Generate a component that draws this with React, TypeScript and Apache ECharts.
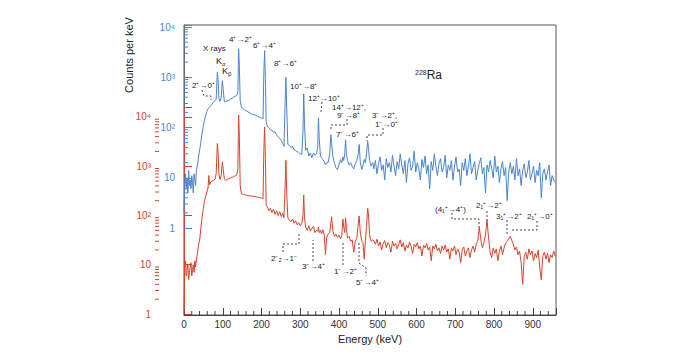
import React, { useEffect, useRef } from "react";
import * as echarts from "echarts";

// Energy channels (keV) shared by both spectra
const energies = [
  0, 2, 4, 6, 8, 10, 12, 14, 16, 18, 20, 22, 24, 26, 28, 30, 32, 35, 38, 41,
  44, 47, 50, 53, 56, 59, 62, 64, 66, 69, 72, 76, 80, 83, 86, 88, 90, 93, 96, 99,
  101, 104, 108, 112, 116, 120, 124, 128, 132, 136, 139, 141, 143, 145, 148, 152, 156, 160, 165, 170,
  175, 180, 185, 190, 195, 200, 204, 206, 208, 210, 212, 215, 219, 223, 227, 231, 235, 239, 243, 247,
  251, 255, 258, 261, 263, 265, 268, 272, 276, 280, 284, 288, 292, 296, 300, 304, 307, 309, 311, 314,
  318, 322, 326, 330, 334, 338, 342, 345, 347, 349, 352, 355, 358, 362, 365, 368, 372, 376, 379, 381,
  384, 388, 392, 396, 400, 404, 407, 410, 412, 415, 417, 419, 422, 426, 430, 434, 438, 442, 446, 449,
  452, 455, 459, 462, 465, 468, 471, 474, 476, 479, 483, 487,
  490, 494, 498, 502, 506, 510, 514, 518, 522, 526,
  530, 534, 538, 542, 546, 550, 554, 558, 562, 566,
  570, 574, 578, 582, 586, 590, 594, 598, 602, 606,
  610, 614, 618, 622, 626, 630, 634, 638, 642, 646,
  650, 654, 658, 662, 666, 670, 674, 678, 682, 686,
  690, 694, 698, 702, 706, 710, 714, 718, 722, 726,
  730, 734, 738, 742, 746, 750, 754, 758, 762, 766,
  770, 774, 778, 782, 786, 790, 794, 798, 802, 806,
  810, 814, 818, 822, 826, 830, 834, 838, 842, 846,
  850, 854, 858, 862, 866, 870, 874, 878, 882, 886,
  890, 894, 898, 902, 906, 910, 914, 918, 922, 926,
  930, 934, 938, 942, 946, 950, 954, 958,
];

// Upper (blue) spectrum, counts per keV
const blueCounts = [
  2, 8, 12, 6, 10, 5, 14, 7, 9, 6, 11, 8, 5, 12, 9, 7, 14, 18, 28, 38,
  55, 80, 110, 140, 175, 210, 235, 245, 255, 270, 290, 320, 340, 360, 1250, 900, 380, 330, 400, 850,
  600, 330, 320, 350, 340, 370, 380, 400, 420, 430, 500, 3700, 1500, 350, 250, 240, 225, 215, 205, 195,
  185, 180, 175, 165, 160, 155, 150, 1200, 3400, 1000, 130, 105, 100, 90, 88, 80, 82, 70, 66, 60,
  55, 48, 42, 300, 1000, 250, 46, 44, 40, 42, 36, 35, 33, 32, 30, 29, 80, 470, 120, 35,
  39, 27, 31, 25, 31, 28, 30, 40, 156, 60, 27, 25, 23, 21, 18, 20, 20, 30, 72, 50,
  27, 20, 16, 14.5, 18, 23, 20, 26, 22, 30, 57, 30, 22, 18, 20, 17, 15, 19, 22, 28,
  46, 20, 14.5, 18, 23, 20, 30, 53, 40, 22, 17, 20,
  15, 22, 12, 19, 26, 14, 18, 9, 24, 16,
  20, 13, 28, 17, 11, 21, 15, 30, 18, 12,
  22, 8, 19, 25, 14, 17, 34, 13, 20, 15,
  9, 23, 16, 27, 12, 18, 6, 21, 14, 30,
  17, 11, 19, 24, 13, 16, 28, 10, 18, 14,
  22, 9, 17, 26, 13, 15, 7, 20, 14, 24,
  11, 17, 30, 12, 16, 21, 9, 14, 19, 25,
  12, 16, 5, 18, 13, 22, 15, 10, 27, 13,
  17, 8, 15, 21, 11, 16, 3.5, 13, 20, 12,
  17, 9, 24, 11, 15, 7, 14, 19, 10, 13,
  22, 9, 12, 17, 8, 14, 11, 20, 4, 12,
  15, 9, 13, 18, 7, 11, 9, 8,
];

// Lower (red) spectrum, counts per keV
const redCounts = [
  1, 9, 12, 6, 8, 10, 5, 7, 9, 11, 6, 8, 10, 7, 12, 9, 13, 18, 26, 35,
  60, 95, 140, 200, 250, 300, 360, 650, 420, 480, 500, 520, 540, 700, 2900, 2000, 700, 540, 650, 1230,
  900, 550, 520, 540, 560, 580, 600, 610, 640, 660, 900, 11000, 3500, 400, 280, 270, 265, 260, 255, 250,
  248, 245, 240, 235, 232, 225, 220, 2000, 6300, 1500, 160, 150, 125, 140, 115, 135, 105, 125, 100, 120,
  95, 110, 90, 400, 1320, 300, 90, 80, 75, 85, 70, 78, 65, 72, 62, 70, 100, 260, 90, 58,
  50, 62, 48, 55, 60, 45, 50, 48, 58, 45, 50, 42, 52, 40, 16, 35, 42, 45, 70, 94,
  50, 38, 42, 36, 40, 34, 38, 85, 60, 45, 90, 55, 35, 38, 30, 32, 18, 30, 34, 60,
  98, 45, 30, 28, 13, 30, 60, 139, 110, 40, 30, 32,
  30, 26, 33, 24, 29, 20, 27, 31, 22, 28,
  25, 18, 30, 24, 27, 21, 26, 32, 23, 28,
  19, 25, 22, 29, 24, 17, 26, 23, 28, 21,
  24, 15, 25, 22, 27, 20, 23, 12, 24, 21,
  26, 19, 22, 17, 24, 20, 25, 18, 21, 13,
  22, 19, 24, 16, 21, 18, 11, 20, 23, 15,
  19, 22, 14, 20, 24, 18, 26, 30, 59, 32,
  22, 28, 40, 81, 35, 18, 14, 22, 17, 21,
  12, 19, 24, 16, 22, 28, 30, 34, 38, 31,
  26, 20, 23, 16, 19, 11, 4, 15, 18, 13,
  21, 16, 19, 12, 17, 14, 20, 9, 5, 15,
  18, 13, 17, 11, 16, 14, 19, 15,
];

const logLabels: Record<number, string> = { 1: "1", 10: "10", 100: "10²", 1000: "10³", 10000: "10⁴" };
const minorFactors = [2, 3, 4, 5, 6, 7, 8, 9];
const decades = [1, 10, 100, 1000];
const xMinorTicks = [
  20, 40, 60, 80, 120, 140, 160, 180, 220, 240, 260, 280, 320, 340, 360, 380,
  420, 440, 460, 480, 520, 540, 560, 580, 620, 640, 660, 680, 720, 740, 760, 780,
  820, 840, 860, 880, 920, 940,
];

const BLUE = "#4a84cc";
const RED = "#d9432b";
const FONT = "'Liberation Sans', Arial, Helvetica, sans-serif";

// Peak annotations (text, left x, centre y)
const annotations: [string, number, number][] = [
  ["X rays", 203, 48],
  ["2⁺→0⁺", 192, 85],
  ["4⁺→2⁺", 229, 39],
  ["6⁺→4⁺", 253, 45],
  ["8⁺→6⁺", 274, 63],
  ["10⁺→8⁺", 290, 86],
  ["12⁺→10⁺", 308, 98],
  ["14⁺→12⁺,", 332, 107],
  ["9⁻→8⁺", 337, 115],
  ["7⁻→6⁺", 336, 134],
  ["3⁻→2⁺,", 372, 115],
  ["1⁻→0⁺", 375, 124],
  ["2⁻₂→1⁻", 271, 258],
  ["3⁻→4⁺", 302, 266],
  ["1⁻→2⁺", 334, 271],
  ["5⁻→4⁺", 356, 282],
  ["(4₁⁺→4⁺)", 435, 209],
  ["2₁⁺→2⁺", 476, 205],
  ["3₁⁺→2⁺", 496, 216],
  ["2₁⁺→0⁺", 527, 216],
];

const leaders: number[][][] = [
  [[202, 90], [204, 96], [211, 96], [211, 100]],
  [[322, 102], [321, 112]],
  [[347, 119], [347, 125], [331, 125], [331, 131]],
  [[383, 128], [383, 135], [367, 135], [367, 141]],
  [[283, 252], [283, 244], [299, 244], [299, 234]],
  [[313, 261], [313, 240]],
  [[343, 265], [343, 243]],
  [[359, 243], [359, 263], [366, 268], [366, 276]],
  [[452, 213], [452, 219], [479, 219], [479, 227]],
  [[487, 211], [487, 227]],
  [[507, 220], [507, 235]],
  [[537, 221], [537, 230], [512, 230]],
];

export default function App() {
  const ref = useRef<HTMLDivElement>(null);
  useEffect(() => {
    document.body.style.margin = "0";
    const chart = echarts.init(ref.current!, null, { renderer: "svg" });
    const blueData = energies.map((e, i) => [e, blueCounts[i]]);
    const redData = energies.map((e, i) => [e, redCounts[i]]);
    const minorData = decades.flatMap((d) => minorFactors.map((f) => [0, f * d]));
    const tickRenderer = (color: string, offset: number, len: number) => (params: any, api: any) => {
      const p = api.coord([api.value(0), api.value(1)]);
      return {
        type: "line",
        shape: { x1: p[0] - offset, y1: p[1], x2: p[0] - offset + len, y2: p[1] },
        style: { stroke: color, lineWidth: 1 },
      };
    };
    const xTickRenderer = (params: any, api: any) => {
      const p = api.coord([api.value(0), 0]);
      return {
        type: "line",
        shape: { x1: p[0], y1: p[1], x2: p[0], y2: p[1] - 4 },
        style: { stroke: "#444", lineWidth: 1 },
      };
    };

    const graphic: any[] = [
      {
        type: "text",
        x: 129,
        y: 55,
        rotation: Math.PI / 2,
        style: { text: "Counts per keV", font: `11px ${FONT}`, fill: "#222", textAlign: "center", textVerticalAlign: "middle" },
      },
      {
        type: "text",
        x: 216,
        y: 61,
        style: {
          text: "K{s|α}",
          font: `9px ${FONT}`,
          fill: "#222",
          textVerticalAlign: "middle",
          rich: { s: { fontSize: 6, fontFamily: FONT, verticalAlign: "bottom", padding: [5, 0, 0, 0] } },
        },
      },
      {
        type: "text",
        x: 222,
        y: 71,
        style: {
          text: "K{s|β}",
          font: `9px ${FONT}`,
          fill: "#222",
          textVerticalAlign: "middle",
          rich: { s: { fontSize: 6, fontFamily: FONT, verticalAlign: "bottom", padding: [5, 0, 0, 0] } },
        },
      },
      {
        type: "text",
        x: 415,
        y: 75,
        style: {
          text: "{s|228}{b|Ra}",
          fill: "#222",
          textVerticalAlign: "middle",
          rich: {
            s: { fontSize: 7, fontFamily: FONT, verticalAlign: "top", padding: [0, 0, 5, 0] },
            b: { fontSize: 12, fontFamily: FONT },
          },
        },
      },
      ...annotations.map(([text, x, y]) => ({
        type: "text",
        x,
        y,
        style: { text, font: `8px ${FONT}`, fill: "#222", textVerticalAlign: "middle" },
      })),
      ...leaders.map((pts) => ({
        type: "polyline",
        shape: { points: pts },
        style: { stroke: "#444", lineWidth: 1, lineDash: [2, 2], fill: null },
      })),
    ];

    chart.setOption({
      animation: false,
      grid: [
        { left: 184, right: 128, top: 25, bottom: 40, show: true, borderColor: "#555", borderWidth: 1 },
        { left: 184, right: 128, top: 25, bottom: 127 },
        { left: 184, right: 128, top: 107, bottom: 41 },
      ],
      xAxis: [
        {
          gridIndex: 0,
          type: "value",
          min: 0,
          max: 960,
          interval: 100,
          axisLine: { show: true, lineStyle: { color: "#444" } },
          axisTick: { show: true, inside: true, length: 7, lineStyle: { color: "#444" } },
          minorTick: { show: false },
          axisLabel: {
            fontSize: 10,
            color: "#333",
            fontFamily: FONT,
            margin: 4,
            formatter: (v: number) => (v % 100 === 0 && v <= 900 ? String(v) : ""),
          },
          splitLine: { show: false },
          name: "Energy (keV)",
          nameLocation: "middle",
          nameGap: 15,
          nameTextStyle: { fontSize: 11, color: "#222", fontFamily: FONT },
        },
        { gridIndex: 1, type: "value", min: 0, max: 960, show: false },
        { gridIndex: 2, type: "value", min: 0, max: 960, show: false },
      ],
      yAxis: [
        { gridIndex: 0, type: "value", show: false, min: 0, max: 1 },
        {
          gridIndex: 1,
          type: "log",
          min: 1,
          max: 10965,
          axisLine: { show: true, lineStyle: { color: "#667" } },
          axisTick: { show: true, inside: true, length: 8, lineStyle: { color: BLUE } },
          axisLabel: {
            color: BLUE,
            fontSize: 10,
            fontFamily: FONT,
            margin: 9,
            formatter: (v: number) => logLabels[Math.round(v)] ?? "",
          },
          splitLine: { show: false },
        },
        {
          gridIndex: 2,
          type: "log",
          min: 1,
          max: 15960,
          position: "left",
          offset: 29,
          axisLine: { show: true, lineStyle: { color: RED } },
          axisTick: { show: true, inside: true, length: 8, lineStyle: { color: RED } },
          axisLabel: {
            color: RED,
            fontSize: 10,
            fontFamily: FONT,
            margin: 4,
            formatter: (v: number) => logLabels[Math.round(v)] ?? "",
          },
          splitLine: { show: false },
        },
      ],
      series: [
        {
          type: "line",
          xAxisIndex: 1,
          yAxisIndex: 1,
          data: blueData,
          showSymbol: false,
          lineStyle: { color: BLUE, width: 1 },
          itemStyle: { color: BLUE },
        },
        {
          type: "line",
          xAxisIndex: 2,
          yAxisIndex: 2,
          data: redData,
          showSymbol: false,
          lineStyle: { color: RED, width: 1 },
          itemStyle: { color: RED },
        },
        {
          type: "custom",
          xAxisIndex: 1,
          yAxisIndex: 1,
          data: minorData,
          renderItem: tickRenderer(BLUE, 0, 4),
          silent: true,
        },
        {
          type: "custom",
          xAxisIndex: 2,
          yAxisIndex: 2,
          data: minorData,
          renderItem: tickRenderer(RED, 29, 4),
          silent: true,
        },
        {
          type: "custom",
          xAxisIndex: 0,
          yAxisIndex: 0,
          data: xMinorTicks.map((e) => [e, 0]),
          renderItem: xTickRenderer,
          silent: true,
        },
      ],
      graphic,
    });
    return () => chart.dispose();
  }, []);
  return <div ref={ref} style={{ width: 684, height: 355 }} />;
}
